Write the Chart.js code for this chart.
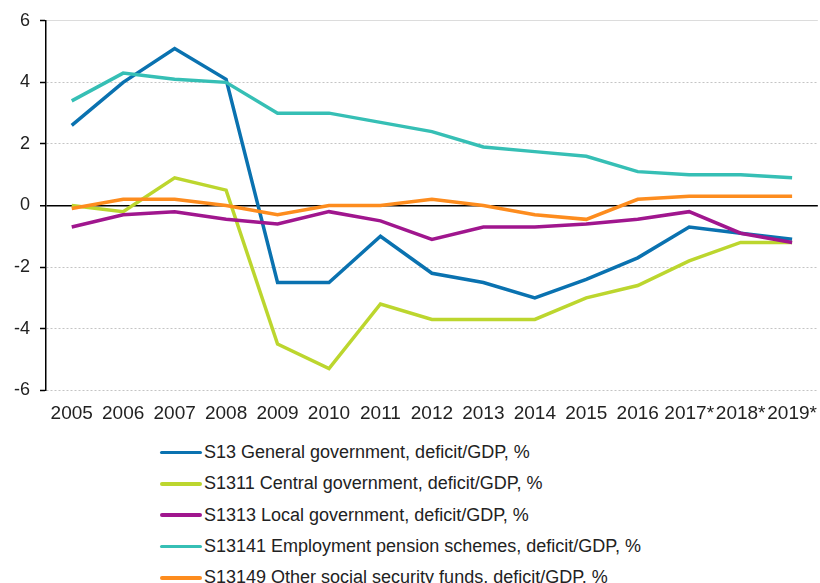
<!DOCTYPE html>
<html>
<head>
<meta charset="utf-8">
<script src="https://cdn.jsdelivr.net/npm/chart.js@4.4.1/dist/chart.umd.min.js"></script>
<style>
  body { margin: 0; background: #fff; font-family: "Liberation Sans", Arial, sans-serif; }
  #wrap { position: relative; width: 820px; height: 583px; overflow: hidden; }
  #chartBox { width: 820px; height: 428px; }
  #legend { position: absolute; left: 160px; top: 437px; }
  .item { height: 31.3px; display: flex; align-items: center; font-size: 18px; color: #222; white-space: nowrap; }
  .swatch { width: 42px; height: 3.5px; margin-right: 2px; border-radius: 2px; }
</style>
</head>
<body>
<div id="wrap">
  <div id="chartBox"><canvas id="deficitChart"></canvas></div>
  <div id="legend"></div>
</div>
<script>
const years = ['2005', '2006', '2007', '2008', '2009', '2010', '2011', '2012', '2013', '2014', '2015', '2016', '2017*', '2018*', '2019*'];
const yTicks = [-6, -4, -2, 0, 2, 4, 6];

const generalGov = [2.6, 4.0, 5.1, 4.1, -2.5, -2.5, -1.0, -2.2, -2.5, -3.0, -2.4, -1.7, -0.7, -0.9, -1.1];
const centralGov = [0.0, -0.2, 0.9, 0.5, -4.5, -5.3, -3.2, -3.7, -3.7, -3.7, -3.0, -2.6, -1.8, -1.2, -1.2];
const localGov = [-0.7, -0.3, -0.2, -0.45, -0.6, -0.2, -0.5, -1.1, -0.7, -0.7, -0.6, -0.45, -0.2, -0.9, -1.2];
const pensionSchemes = [3.4, 4.3, 4.1, 4.0, 3.0, 3.0, 2.7, 2.4, 1.9, 1.75, 1.6, 1.1, 1.0, 1.0, 0.9];
const otherSocial = [-0.1, 0.2, 0.2, 0.0, -0.3, 0.0, 0.0, 0.2, 0.0, -0.3, -0.45, 0.2, 0.3, 0.3, 0.3];

const seriesNames = [
  'S13 General government, deficit/GDP, %',
  'S1311 Central government, deficit/GDP, %',
  'S1313 Local government, deficit/GDP, %',
  'S13141 Employment pension schemes, deficit/GDP, %',
  'S13149 Other social security funds, deficit/GDP, %'
];
const seriesData = [generalGov, centralGov, localGov, pensionSchemes, otherSocial];
const seriesColors = ['#0a72b0', '#bcd62e', '#a0168e', '#36bfb5', '#fd8c1e'];

const datasets = seriesNames.map((name, i) => ({
  label: name,
  data: seriesData[i],
  borderColor: seriesColors[i],
  backgroundColor: seriesColors[i],
  borderWidth: 3.5,
  pointRadius: 0,
  tension: 0,
  order: seriesNames.length - i
}));

// zero line and tick marks in black, other grid lines light and dotted
const ctx = document.getElementById('deficitChart').getContext('2d');
const chart = new Chart(ctx, {
  type: 'line',
  data: { labels: years, datasets },
  options: {
    responsive: true,
    maintainAspectRatio: false,
    animation: false,
    layout: { padding: { top: 12, right: 2, left: 0, bottom: 0 } },
    plugins: {
      legend: { display: false },
      tooltip: { enabled: false }
    },
    scales: {
      x: {
        offset: true,
        // invisible tick marks only keep the gap under the plot
        grid: { display: true, drawOnChartArea: false, drawTicks: true, tickLength: 9, color: 'rgba(0,0,0,0)' },
        border: { display: false },
        ticks: {
          autoSkip: false,
          maxRotation: 0,
          padding: 3,
          color: '#222',
          font: { family: 'Liberation Sans', size: 19 }
        }
      },
      y: {
        min: -6,
        max: 6,
        afterBuildTicks: axis => { axis.ticks = yTicks.map(v => ({ value: v })); },
        afterFit: axis => { axis.width = 46; },
        grid: {
          color: c => c.tick && c.tick.value === 0 ? '#000' : (c.tick && c.tick.value === 6 ? '#dcdcdc' : '#c4c4c4'),
          lineWidth: c => c.tick && c.tick.value === 0 ? 1.5 : 1,
          tickColor: '#000',
          tickLength: 6,
          tickWidth: 1.5
        },
        border: {
          display: true,
          color: '#000',
          width: 1.5,
          dash: c => c.tick && (c.tick.value === 0 || c.tick.value === 6) ? [] : [2, 2]
        },
        ticks: {
          padding: 10,
          color: '#222',
          font: { family: 'Liberation Sans', size: 18 }
        }
      }
    }
  }
});

// legend as one column under the plot
const legendEl = document.getElementById('legend');
chart.data.datasets.forEach(ds => {
  const row = document.createElement('div');
  row.className = 'item';
  const sw = document.createElement('span');
  sw.className = 'swatch';
  sw.style.background = ds.borderColor;
  row.appendChild(sw);
  row.appendChild(document.createTextNode(ds.label));
  legendEl.appendChild(row);
});
</script>
</body>
</html>
